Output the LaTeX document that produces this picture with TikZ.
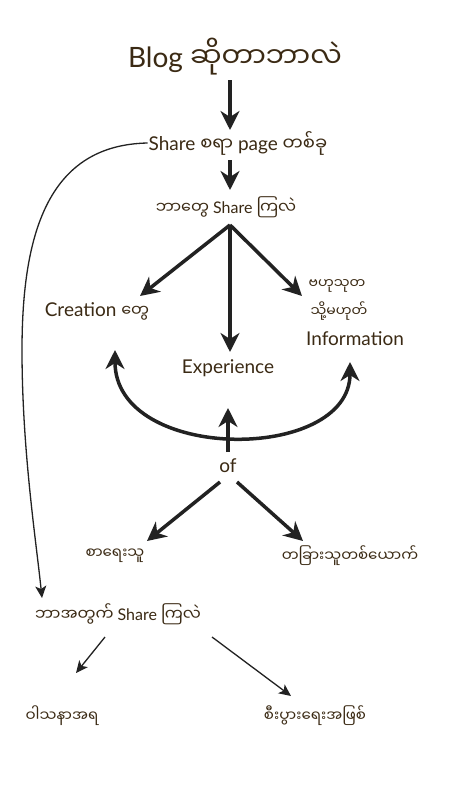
\documentclass[tikz,border=0pt]{standalone}
\usepackage{fontspec}
\setmainfont{Lato}
\newfontfamily\mm[Script=Myanmar]{Noto Sans Myanmar UI}
\usetikzlibrary{arrows.meta}
\definecolor{txt}{HTML}{3B2A14}
\definecolor{ln}{HTML}{222222}
\tikzset{
  lbl/.style={text=txt, inner sep=1pt, font=\fontsize{19}{24}\selectfont},
  biglbl/.style={lbl, font=\fontsize{28}{32}\selectfont},
  smlbl/.style={lbl, font=\fontsize{16}{20}\selectfont},
  mmlbl/.style={lbl, font=\fontsize{15}{18}\selectfont\mm},
  fatarrow/.style={draw=ln, line width=3.5pt, -{Stealth[length=19pt,width=19pt,inset=6pt]}},
  fatboth/.style={draw=ln, line width=3.5pt, {Stealth[length=19pt,width=19pt,inset=6pt]}-{Stealth[length=19pt,width=19pt,inset=6pt]}},
  thinarrow/.style={draw=ln, line width=1.3pt, -{Stealth[length=12pt,width=11pt,inset=3pt]}},
}
\begin{document}
\begin{tikzpicture}[x=1pt,y=-1pt]
\useasboundingbox[fill=white] (0,0) rectangle (450,800);
% nodes
\node[biglbl] (blog) at (235,57) {Blog {\mm ဆိုတာဘာလဲ}};
\node[lbl] (page) at (238,143) {Share {\mm\fontsize{18}{20}\selectfont စရာ} page {\mm\fontsize{18}{20}\selectfont တစ်ခု}};
\node[smlbl] (what) at (226,207) {{\mm ဘာတွေ} Share {\mm ကြလဲ}};
\node[lbl] (creation) at (97,311) {Creation {\mm\fontsize{16}{20}\selectfont တွေ}};
\node[lbl] (exp) at (228,368) {Experience};
\node[mmlbl, font=\fontsize{14}{16}\selectfont\mm] (info1) at (337,286) {ဗဟုသုတ};
\node[mmlbl, font=\fontsize{14}{16}\selectfont\mm] (info2) at (339,311) {သို့မဟုတ်};
\node[lbl] (info3) at (355,339) {Information};
\node[lbl] (of) at (228,466) {of};
\node[mmlbl] (writer) at (115,556) {စာရေးသူ};
\node[mmlbl] (other) at (350,556) {တခြားသူတစ်ယောက်};
\node[smlbl] (why) at (118,614) {{\mm ဘာအတွက်} Share {\mm ကြလဲ}};
\node[mmlbl] (hobby) at (62,716) {ဝါသနာအရ};
\node[mmlbl] (biz) at (315,716) {စီးပွားရေးအဖြစ်};
% helper points
\coordinate (apex) at (230,225);
\coordinate (ofup) at (228,452);
\coordinate (cU) at (115,350);
\coordinate (iU) at (350,362);
% connectors
\draw[fatarrow] (230,80) -- (230,130);
\draw[fatarrow] (230,160) -- (230,190);
\draw[fatarrow] (apex) -- (140,296);
\draw[fatarrow] (apex) -- (230,352);
\draw[fatarrow] (apex) -- (302,296);
\draw[fatboth] (cU) .. controls (115,463) and (350,463) .. (iU);
\draw[fatarrow] (ofup) -- (228,408);
\draw[fatarrow] (220,482) -- (147,541);
\draw[fatarrow] (237,482) -- (303,541);
\draw[thinarrow] (page.west) .. controls (50,145) and (22,230) .. (22,350) .. controls (22,450) and (36,540) .. (42,598);
\draw[thinarrow] (105,637) -- (76,673);
\draw[thinarrow] (212,637) -- (291,696);
\end{tikzpicture}
\end{document}
